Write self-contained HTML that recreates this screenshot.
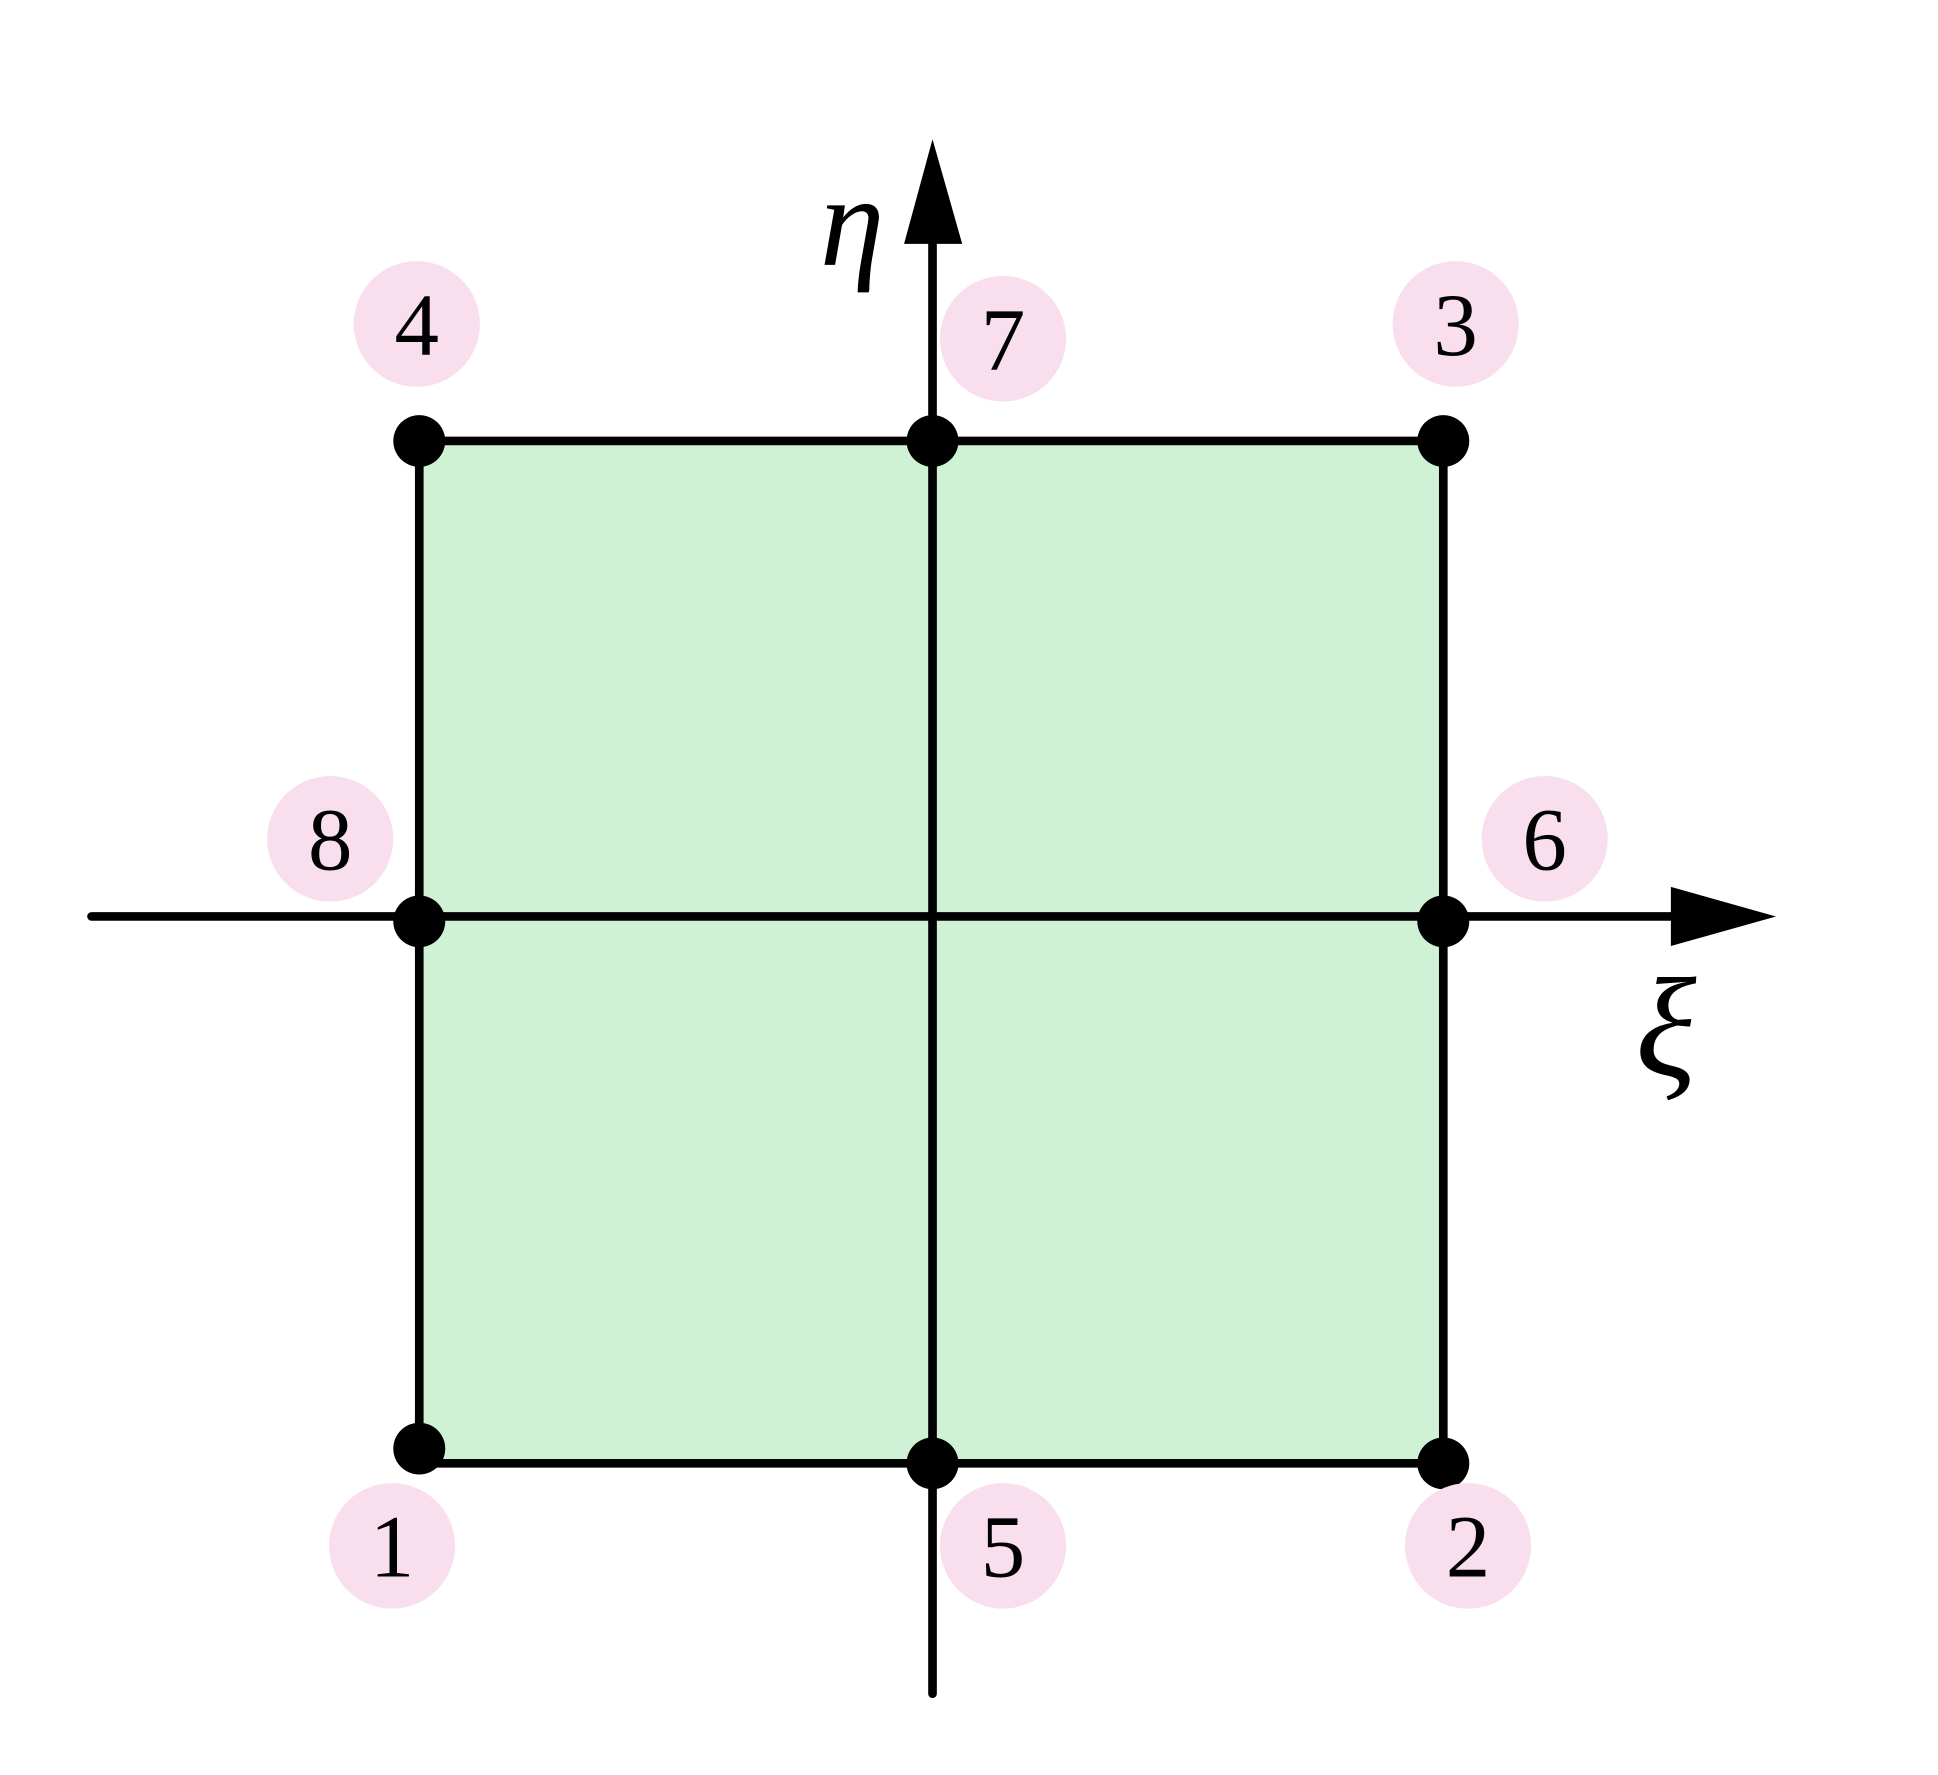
<!DOCTYPE html>
<html><head><meta charset="utf-8"><style>html,body{margin:0;padding:0;background:#fff}svg{display:block}</style></head>
<body>
<svg width="1938" height="1775" viewBox="1 -3 1567 1441" preserveAspectRatio="none" xmlns="http://www.w3.org/2000/svg">
<rect x="340" y="355" width="828" height="830" fill="#d0f2d4"/>
<g stroke="#000" stroke-width="7" stroke-linecap="round" fill="none">
<line x1="75" y1="741" x2="1360" y2="741"/>
<line x1="755" y1="1372" x2="755" y2="185"/>
<line x1="340" y1="355" x2="1168" y2="355"/>
<line x1="340" y1="1185" x2="1168" y2="1185"/>
<line x1="340" y1="355" x2="340" y2="1185"/>
<line x1="1168" y1="355" x2="1168" y2="1185"/>
</g>
<polygon points="1352,717 1437,741 1352,765" fill="#000"/>
<polygon points="732,195 755,110 779,195" fill="#000"/>
<text x="690" y="212" font-family="Liberation Serif, serif" font-style="italic" font-size="105" text-anchor="middle">η</text>
<text x="1348" y="870" font-family="Liberation Serif, serif" font-style="italic" font-size="115" text-anchor="middle">ξ</text>
<g id="nodes"></g>
</svg>
<script>
const nodeIds=["1","2","3","4","5","6","7","8"];
const nodeX=[340,1168,1168,340,755,1168,755,340];
const nodeY=[1173,1185,355,355,1185,745,355,745];
const labelX=[318,1188,1178,338,812,1250,812,268];
const labelY=[1252,1252,260,260,1252,678,272,678];
const g=document.getElementById('nodes');
const NS='http://www.w3.org/2000/svg';
for(let i=0;i<nodeIds.length;i++){
  const d=document.createElementNS(NS,'circle');
  d.setAttribute('cx',nodeX[i]);d.setAttribute('cy',nodeY[i]);d.setAttribute('r',21);d.setAttribute('fill','#000');
  
  
  g.appendChild(d);
  const c=document.createElementNS(NS,'circle');
  c.setAttribute('cx',labelX[i]);c.setAttribute('cy',labelY[i]);c.setAttribute('r',51);c.setAttribute('fill','#f9dfee');
  
  
  g.appendChild(c);
  const t=document.createElementNS(NS,'text');
  t.setAttribute('x',labelX[i]);t.setAttribute('y',labelY[i]+25);
  t.setAttribute('text-anchor','middle');t.setAttribute('font-family','Liberation Serif, serif');t.setAttribute('font-size','72');
  t.textContent=nodeIds[i];
  
  
  g.appendChild(t);
}
</script>
</body></html>
